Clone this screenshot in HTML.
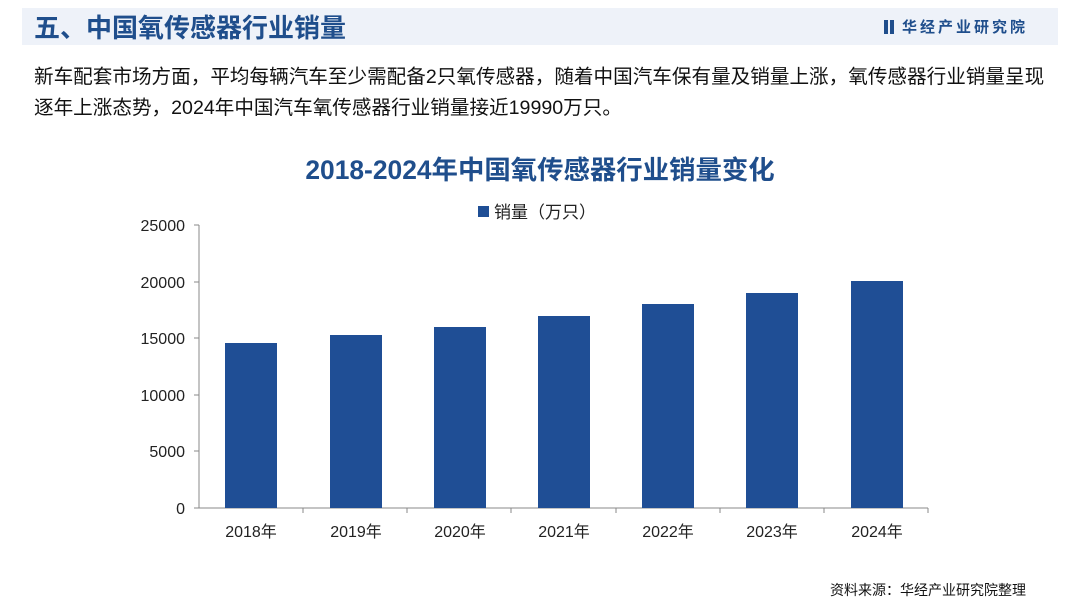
<!DOCTYPE html>
<html><head><meta charset="utf-8"><style>
body{margin:0;width:1080px;height:602px;background:#fff;overflow:hidden;position:relative;font-family:"Liberation Sans","Noto Sans CJK SC",sans-serif}
.band{position:absolute;left:22px;top:8px;width:1036px;height:37px;background:#eef2f9}
.title{position:absolute;left:34px;top:8px;font-size:26px;font-weight:bold;color:#1f4e8c}
.logo{position:absolute;left:884px;top:16px;font-size:15px;font-weight:bold;color:#1f4e8c;letter-spacing:3px}
.p{position:absolute;left:34px;top:62px;font-size:19.6px;line-height:31px;color:#111;white-space:nowrap}
.src{position:absolute;left:830px;top:580px;font-size:14px;color:#111}
</style></head><body>
<div class="band"></div>
<div class="title">五、中国氧传感器行业销量</div>
<div class="logo"><span style="display:inline-block;width:4px;height:14px;background:#1f4e8c;margin-right:2px;vertical-align:-2px"></span><span style="display:inline-block;width:4px;height:14px;background:#1f4e8c;margin-right:8px;vertical-align:-2px"></span>华经产业研究院</div>
<div class="p">新车配套市场方面，平均每辆汽车至少需配备2只氧传感器，随着中国汽车保有量及销量上涨，氧传感器行业销量呈现<br>逐年上涨态势，2024年中国汽车氧传感器行业销量接近19990万只。</div>
<svg width="1080" height="602" style="position:absolute;left:0;top:0" font-family="Liberation Sans, Noto Sans CJK SC, sans-serif">
<text x="540" y="179" text-anchor="middle" font-size="26.4" font-weight="bold" fill="#1f4e8c">2018-2024年中国氧传感器行业销量变化</text>
<rect x="478" y="206" width="11" height="11" fill="#1f4e95"/>
<text x="494" y="218" font-size="17" fill="#222">销量（万只）</text>
<g stroke="#888" stroke-width="1">
<line x1="199" y1="225" x2="199" y2="508"/>
<line x1="199" y1="508" x2="928" y2="508"/>
<line x1="194" y1="225" x2="199" y2="225"/><line x1="194" y1="282" x2="199" y2="282"/><line x1="194" y1="338" x2="199" y2="338"/><line x1="194" y1="395" x2="199" y2="395"/><line x1="194" y1="451" x2="199" y2="451"/><line x1="194" y1="508" x2="199" y2="508"/>
<line x1="303" y1="508" x2="303" y2="513"/><line x1="407" y1="508" x2="407" y2="513"/><line x1="511" y1="508" x2="511" y2="513"/><line x1="616" y1="508" x2="616" y2="513"/><line x1="720" y1="508" x2="720" y2="513"/><line x1="824" y1="508" x2="824" y2="513"/><line x1="928" y1="508" x2="928" y2="513"/>
</g>
<g font-size="16" fill="#222" text-anchor="end">
<text x="185" y="231">25000</text><text x="185" y="288">20000</text><text x="185" y="344">15000</text><text x="185" y="401">10000</text><text x="185" y="457">5000</text><text x="185" y="514">0</text>
</g>
<g fill="#1f4e95">
<rect x="225" y="343" width="52" height="165"/>
<rect x="330" y="335" width="52" height="173"/>
<rect x="434" y="327" width="52" height="181"/>
<rect x="538" y="316" width="52" height="192"/>
<rect x="642" y="304" width="52" height="204"/>
<rect x="746" y="293" width="52" height="215"/>
<rect x="851" y="281" width="52" height="227"/>
</g>
<g font-size="16" fill="#222" text-anchor="middle">
<text x="251" y="537">2018年</text><text x="356" y="537">2019年</text><text x="460" y="537">2020年</text><text x="564" y="537">2021年</text><text x="668" y="537">2022年</text><text x="772" y="537">2023年</text><text x="877" y="537">2024年</text>
</g>
</svg>
<div class="src">资料来源：华经产业研究院整理</div>
</body></html>
